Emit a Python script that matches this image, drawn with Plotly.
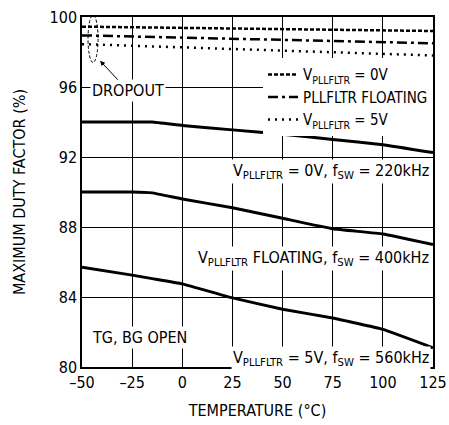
import plotly.graph_objects as go

temps = [-50, -25, -15, 0, 25, 50, 75, 100, 125]
duty_220 = [94.0, 94.0, 94.0, 93.8, 93.55, 93.3, 93.0, 92.7, 92.25]
duty_400 = [90.0, 90.0, 89.95, 89.6, 89.1, 88.5, 87.9, 87.6, 87.0]
duty_560 = [85.7, 85.25, 85.05, 84.75, 83.95, 83.3, 82.8, 82.15, 81.1]

drop_t = [-50, 125]
drop_0v = [99.45, 99.2]
drop_float = [98.95, 98.5]
drop_5v = [98.45, 97.8]

FONT = "DejaVu Sans Condensed, Liberation Sans Narrow, sans-serif"

fig = go.Figure()
lw = 3
fig.add_trace(go.Scatter(x=drop_t, y=drop_0v, mode="lines", name="V<sub>PLLFLTR</sub> = 0V",
                         line=dict(color="black", width=2.5, dash="4px,2px")))
fig.add_trace(go.Scatter(x=drop_t, y=drop_float, mode="lines", name="PLLFLTR FLOATING",
                         line=dict(color="black", width=2.5, dash="10px,4px,3px,4px")))
fig.add_trace(go.Scatter(x=drop_t, y=drop_5v, mode="lines", name="V<sub>PLLFLTR</sub> = 5V",
                         line=dict(color="black", width=2.5, dash="2px,5px")))
for ys in (duty_220, duty_400, duty_560):
    fig.add_trace(go.Scatter(x=temps, y=ys, mode="lines", showlegend=False,
                             line=dict(color="black", width=lw, shape="spline", smoothing=0.3)))

annots = [
    dict(x=124, y=91.2, text="V<sub>PLLFLTR</sub> = 0V, f<sub>SW</sub> = 220kHz", xanchor="right"),
    dict(x=124, y=86.2, text="V<sub>PLLFLTR</sub> FLOATING, f<sub>SW</sub> = 400kHz", xanchor="right"),
    dict(x=124, y=80.5, text="V<sub>PLLFLTR</sub> = 5V, f<sub>SW</sub> = 560kHz", xanchor="right"),
    dict(x=-46, y=81.7, text="TG, BG OPEN", xanchor="left"),
]
for a in annots:
    fig.add_annotation(x=a["x"], y=a["y"], text=a["text"], xanchor=a["xanchor"], yanchor="middle",
                       showarrow=False, bgcolor="white", borderpad=1,
                       font=dict(family=FONT, size=16, color="black"))

fig.add_annotation(x=-41, y=97.5, text="DROPOUT", showarrow=True, ax=28, ay=30,
                   arrowhead=2, arrowsize=1, arrowwidth=1, arrowcolor="black", standoff=0,
                   bgcolor="white", font=dict(family=FONT, size=16, color="black"))
fig.add_shape(type="circle", xref="x", yref="y", x0=-47, x1=-42, y0=97.4, y1=100.1,
              line=dict(color="black", width=1, dash="3px,2px"))

fig.update_layout(
    width=449, height=425,
    margin=dict(l=82, r=16, t=17, b=58),
    plot_bgcolor="white", paper_bgcolor="white",
    font=dict(family=FONT, size=16, color="black"),
    showlegend=True,
    legend=dict(x=1, y=0.882, xanchor="right", yanchor="top", bgcolor="white",
                font=dict(family=FONT, size=15), tracegroupgap=0, itemwidth=30,
                borderwidth=0),
)
fig.update_xaxes(range=[-50, 125], tickvals=[-50, -25, 0, 25, 50, 75, 100, 125],
                 ticktext=["–50", "–25", "0", "25", "50", "75", "100", "125"],
                 showgrid=True, gridcolor="black", gridwidth=1, zeroline=False,
                 showline=True, linecolor="black", linewidth=1.5, mirror=True, ticks="",
                 automargin=False, ticklabeloverflow="allow",
                 title=dict(text="TEMPERATURE (°C)", font=dict(size=16), standoff=14),
                 tickfont=dict(size=16))
fig.update_yaxes(range=[80, 100], tickvals=[80, 84, 88, 92, 96, 100],
                 showgrid=True, gridcolor="black", gridwidth=1, zeroline=False,
                 showline=True, linecolor="black", linewidth=1.5, mirror=True, ticks="",
                 automargin=False, ticklabeloverflow="allow",
                 title=dict(text="MAXIMUM DUTY FACTOR (%)", font=dict(size=16), standoff=20),
                 tickfont=dict(size=16))

fig.write_html("out.html", config={"displayModeBar": False},
               post_script="document.body.style.margin='0';")
